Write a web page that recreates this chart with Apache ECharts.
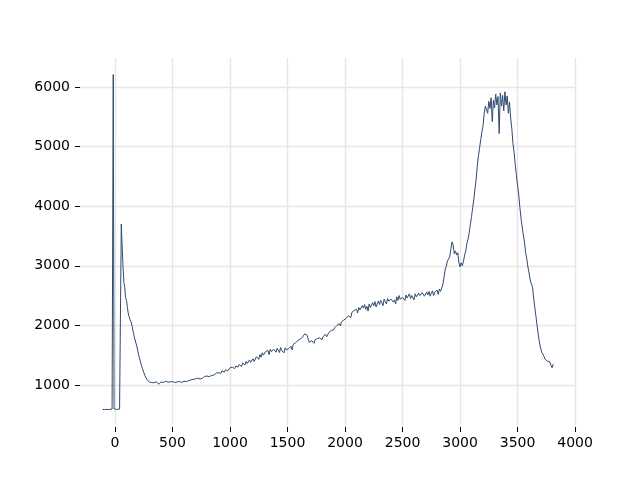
<!DOCTYPE html>
<html>
<head>
<meta charset="utf-8">
<script src="https://cdn.jsdelivr.net/npm/echarts@6/dist/echarts.min.js"></script>
<style>html,body{margin:0;padding:0;background:#fff}#c{width:640px;height:480px}</style>
</head>
<body>
<div id="c"></div>
<script>
// Head of the trace: explicit [x, y] samples (baseline, two spikes, decay)
const headX = [-108, -90, -70, -50, -35, -25, -15, -8, -4, 0, 15, 30, 40, 55, 62, 70, 78, 85, 92, 100, 108, 115, 122, 130, 140, 150, 160, 170, 180, 190, 200, 210, 220, 230, 240, 250, 260, 270, 280, 290];
const headY = [590, 588, 590, 589, 592, 596, 6210, 600, 590, 588, 589, 590, 596, 3700, 3350, 2980, 2720, 2640, 2470, 2420, 2300, 2210, 2150, 2100, 2060, 1980, 1880, 1790, 1720, 1650, 1560, 1470, 1400, 1330, 1270, 1210, 1160, 1120, 1085, 1060];

// Body of the trace: samples every 10 units starting at x = 300
const bodyStart = 300;
const bodyStep = 10;
const bodyY = [
  1050, 1045, 1040, 1052, 1038, 1046, 1055, 1030, 1012, 1040,
  1050, 1058, 1044, 1040, 1062, 1055, 1047, 1060, 1052, 1046,
  1058, 1050, 1042, 1066, 1050, 1045, 1060, 1052, 1041, 1056,
  1064, 1050, 1058, 1076, 1070, 1066, 1085, 1072, 1094, 1088,
  1102, 1090, 1115, 1121, 1100, 1128, 1110, 1140, 1145, 1130,
  1150, 1158, 1140, 1172, 1160, 1188, 1165, 1180, 1200, 1190,
  1205, 1220, 1196, 1240, 1230, 1212, 1255, 1270, 1238, 1262,
  1290, 1262, 1300, 1312, 1275, 1318, 1338, 1300, 1345, 1330,
  1310, 1370, 1352, 1335, 1395, 1360, 1372, 1420, 1380, 1398,
  1440, 1395, 1420, 1475, 1450, 1430, 1510, 1465, 1540, 1500,
  1470, 1560, 1535, 1580, 1510, 1600, 1560, 1545, 1600, 1580,
  1550, 1615, 1590, 1545, 1630, 1575, 1600, 1540, 1625, 1590,
  1560, 1610, 1595, 1650, 1590, 1680, 1660, 1710, 1690, 1745,
  1720, 1770, 1760, 1800, 1820, 1860, 1885, 1835, 1770, 1715,
  1690, 1745, 1720, 1700, 1760, 1735, 1780, 1750, 1790, 1770,
  1760, 1815, 1790, 1850, 1810, 1830, 1880, 1860, 1915, 1890,
  1925, 1960, 1940, 2000, 1970, 2030, 1990, 2060, 2040, 2090,
  2060, 2120, 2090, 2160, 2180, 2130, 2220, 2200, 2250, 2230,
  2270, 2210, 2300, 2260, 2250, 2330, 2290, 2350, 2270, 2320,
  2240, 2360, 2300, 2290, 2380, 2330, 2400, 2310, 2360, 2410,
  2350, 2420, 2380, 2330, 2440, 2400, 2360, 2450, 2410, 2390,
  2440, 2470, 2390, 2430, 2360, 2480, 2420, 2500, 2440, 2410,
  2470, 2490, 2420, 2510, 2460, 2440, 2530, 2450, 2500, 2510,
  2430, 2530, 2480, 2460, 2540, 2500, 2470, 2550, 2520, 2490,
  2460, 2560, 2510, 2570, 2490, 2540, 2580, 2500, 2560, 2530,
  2590, 2520, 2610, 2570, 2560, 2680, 2800, 2930, 2990, 3080,
  3060, 3150, 3280, 3400, 3350, 3200, 3250, 3180, 3220, 3060,
  2980, 3050, 3000, 3080, 3180, 3250, 3380, 3450, 3560, 3700,
  3830, 3980, 4120, 4300, 4450, 4680, 4850, 4980, 5120, 5250,
  5350, 5560, 5680, 5700, 5560, 5760, 5640, 5820, 5420, 5780,
  5650, 5880, 5700, 5840, 5220, 5900, 5680, 5860, 5600, 5920,
  5700, 5850, 5560, 5750, 5480, 5300, 5050, 4900, 4700, 4520,
  4350, 4200, 3980, 3800, 3650, 3520, 3400, 3220, 3120, 2980,
  2880, 2760, 2700, 2640, 2460, 2300, 2150, 1990, 1850, 1720,
  1620, 1550, 1520, 1480, 1430, 1410, 1400, 1370, 1390, 1330,
  1290, 1350
];

const xTicks = [0, 500, 1000, 1500, 2000, 2500, 3000, 3500, 4000];
const yTicks = [1000, 2000, 3000, 4000, 5000, 6000];

const points = [];
headX.forEach((x, i) => points.push([x, headY[i]]));
bodyY.forEach((y, i) => points.push([bodyStart + i * bodyStep, y]));

const chart = echarts.init(document.getElementById('c'), null, {renderer: 'canvas'});
const labelStyle = {color: '#000', fontFamily: 'DejaVu Sans', fontSize: 14, formatter: v => String(v)};
chart.setOption({
  animation: false,
  backgroundColor: '#fff',
  grid: {left: 80, right: 64, top: 58, bottom: 53, containLabel: false},
  xAxis: {
    type: 'value', min: -304, max: 4008,
    axisLine: {show: false, onZero: false},
    axisTick: {show: true, customValues: xTicks, length: 5, lineStyle: {color: '#000', width: 1}},
    axisLabel: Object.assign({customValues: xTicks, margin: 9, showMinLabel: true, showMaxLabel: true}, labelStyle),
    splitLine: {show: true, lineStyle: {color: '#e6e6e6', width: 1.4}}
  },
  yAxis: {
    type: 'value', min: 295, max: 6487,
    axisLine: {show: false, onZero: false},
    axisTick: {show: true, customValues: yTicks, length: 5, lineStyle: {color: '#000', width: 1}},
    axisLabel: Object.assign({customValues: yTicks, margin: 10}, labelStyle),
    splitLine: {show: true, lineStyle: {color: '#e6e6e6', width: 1.4}}
  },
  series: [{
    type: 'line',
    data: points,
    showSymbol: false,
    symbol: 'none',
    sampling: null,
    lineStyle: {color: '#2f4a6d', width: 1},
    silent: true
  }]
});
</script>
</body>
</html>
